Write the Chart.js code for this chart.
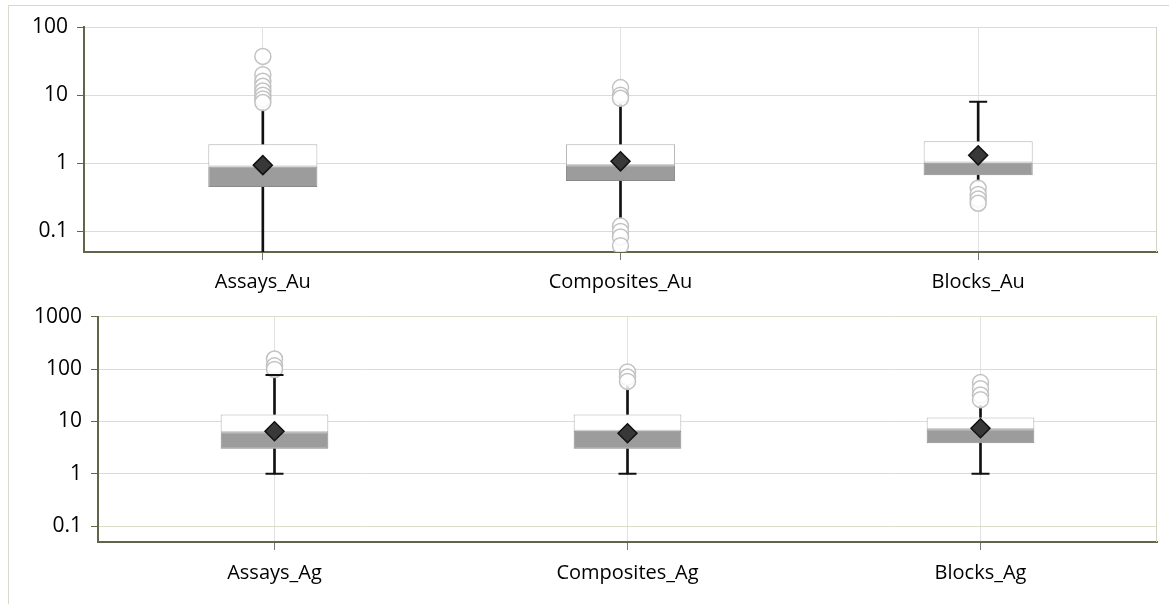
<!DOCTYPE html>
<html>
<head>
<meta charset="utf-8">
<title>Au / Ag box plots</title>
<script src="https://cdn.jsdelivr.net/npm/chart.js@4/dist/chart.umd.min.js"></script>
<style>
    body { margin: 0; background: #fff; width: 1169px; height: 604px; overflow: hidden; }
    #frame { position: absolute; left: 8px; top: 5px; width: 1170px; height: 610px; border: 1px solid #d6d9cc; }
    canvas { position: absolute; left: 0; }
    #au-chart { top: 0; }
    #ag-chart { top: 295px; }
</style>
</head>
<body>
<div id="frame"></div>
<canvas id="au-chart" width="1169" height="300"></canvas>
<canvas id="ag-chart" width="1169" height="309"></canvas>
<script>
// Gold panel
const auCategories = ['Assays_Au', 'Composites_Au', 'Blocks_Au'];
const auQ1 = [0.45, 0.55, 0.67];
const auMedian = [0.9, 0.94, 1.03];
const auQ3 = [1.9, 1.9, 2.1];
const auLow = [0.03, 0.16, 0.55];
const auHigh = [6.2, 8.4, 8.0];
const auMean = [0.94, 1.07, 1.31];
const auOutliers = [
    [37, 20, 16, 13.5, 11.5, 10, 8.8, 7.8],
    [12.9, 10, 9, 0.12, 0.1, 0.083, 0.062],
    [0.43, 0.35, 0.3, 0.26]
];
const auCapHigh = [null, null, 8.0];
const auCapLow = [null, null, null];
const auTicks = [0.1, 1, 10, 100];

// Silver panel
const agCategories = ['Assays_Ag', 'Composites_Ag', 'Blocks_Ag'];
const agQ1 = [3, 3, 3.85];
const agMedian = [6.2, 6.6, 7.1];
const agQ3 = [13.6, 13.6, 11.9];
const agLow = [1, 1, 1];
const agHigh = [77, 48, 20];
const agMean = [6.5, 5.95, 7.4];
const agOutliers = [
    [155, 115, 98],
    [88, 70, 58],
    [55, 42, 32, 26]
];
const agCapHigh = [77, null, null];
const agCapLow = [1, 1, 1];
const agTicks = [0.1, 1, 10, 100, 1000];

Chart.defaults.font.family = "'Open Sans', sans-serif";
Chart.defaults.color = '#000';

// light line on the right edge of the plot area
const plotFrame = {
    id: 'plotFrame',
    beforeDatasetsDraw(chart) {
        const { ctx, chartArea: a } = chart;
        ctx.save();
        ctx.strokeStyle = '#d2d5c6';
        ctx.lineWidth = 1;
        ctx.beginPath();
        ctx.moveTo(a.right - 0.5, a.top);
        ctx.lineTo(a.right - 0.5, a.bottom);
        ctx.stroke();
        ctx.restore();
    }
};

document.addEventListener('DOMContentLoaded', function() {
    drawPanel('au-chart', {
        categories: auCategories, q1: auQ1, median: auMedian, q3: auQ3,
        low: auLow, high: auHigh, mean: auMean, outliers: auOutliers,
        capHigh: auCapHigh, capLow: auCapLow, ticks: auTicks,
        min: 0.05, max: 100, top: 27, axisWidth: 84, axisHeight: 48, labelPad: 10
    });
    drawPanel('ag-chart', {
        categories: agCategories, q1: agQ1, median: agMedian, q3: agQ3,
        low: agLow, high: agHigh, mean: agMean, outliers: agOutliers,
        capHigh: agCapHigh, capLow: agCapLow, ticks: agTicks,
        min: 0.05, max: 1000, top: 21, axisWidth: 98, axisHeight: 62, labelPad: 11
    });
});

function drawPanel(id, p) {
    const pairs = (a, b) => a.map((v, i) => [v, b[i]]);
    const outlierPoints = [];
    p.outliers.forEach((list, i) => {
        list.forEach(v => outlierPoints.push({ x: p.categories[i], y: v }));
    });

    const capStyle = {
        type: 'line',
        showLine: false,
        pointStyle: 'line',
        pointRadius: 9,
        pointBorderColor: '#111',
        pointBorderWidth: 2,
        order: -1
    };

    const ctx = document.getElementById(id).getContext('2d');
    new Chart(ctx, {
        type: 'bar',
        data: {
            labels: p.categories,
            datasets: [
                {
                    // outliers
                    type: 'line',
                    data: outlierPoints,
                    showLine: false,
                    pointStyle: 'circle',
                    pointRadius: 8,
                    pointBackgroundColor: 'rgba(255,255,255,0.85)',
                    pointBorderColor: '#c2c2c2',
                    pointBorderWidth: 1.5,
                    order: 0
                },
                {
                    // mean
                    type: 'line',
                    data: p.mean,
                    showLine: false,
                    pointStyle: 'rectRot',
                    pointRadius: 9.5,
                    pointBackgroundColor: '#383838',
                    pointBorderColor: '#111',
                    pointBorderWidth: 1.5,
                    order: 1
                },
                {
                    // median -> Q3
                    data: pairs(p.median, p.q3),
                    backgroundColor: '#ffffff',
                    borderColor: '#b2b2b2',
                    borderWidth: 1,
                    borderSkipped: false,
                    grouped: false,
                    categoryPercentage: 1,
                    barPercentage: 0.305,
                    order: 2
                },
                {
                    // Q1 -> median
                    data: pairs(p.q1, p.median),
                    backgroundColor: '#9c9c9c',
                    borderColor: '#8a8a8a',
                    borderWidth: 1,
                    borderSkipped: false,
                    grouped: false,
                    categoryPercentage: 1,
                    barPercentage: 0.305,
                    order: 2
                },
                {
                    // upper whisker
                    data: pairs(p.q3, p.high),
                    backgroundColor: '#111',
                    barThickness: 2,
                    grouped: false,
                    order: 3
                },
                {
                    // lower whisker
                    data: pairs(p.low, p.q1),
                    backgroundColor: '#111',
                    barThickness: 2,
                    grouped: false,
                    order: 3
                },
                Object.assign({ data: p.capHigh }, capStyle),
                Object.assign({ data: p.capLow }, capStyle)
            ]
        },
        options: {
            responsive: false,
            animation: false,
            layout: { padding: { top: p.top, right: 12, left: 0, bottom: 0 } },
            plugins: {
                legend: { display: false },
                tooltip: { enabled: false }
            },
            scales: {
                x: {
                    afterFit: s => { s.height = p.axisHeight; },
                    grid: { color: '#e2e2e2', offset: false, tickLength: 8, tickColor: '#777' },
                    border: { color: '#62654a', width: 2 },
                    ticks: { font: { size: 20 }, padding: p.labelPad }
                },
                y: {
                    type: 'logarithmic',
                    min: p.min,
                    max: p.max,
                    afterFit: s => { s.width = p.axisWidth; },
                    afterBuildTicks: s => { s.ticks = p.ticks.map(v => ({ value: v })); },
                    grid: { color: '#dadecb', tickLength: 7, tickColor: '#62654a' },
                    border: { color: '#62654a', width: 2 },
                    ticks: {
                        font: { size: 21 },
                        padding: 9,
                        callback: v => String(v)
                    }
                }
            }
        },
        plugins: [plotFrame]
    });
}
</script>
</body>
</html>
